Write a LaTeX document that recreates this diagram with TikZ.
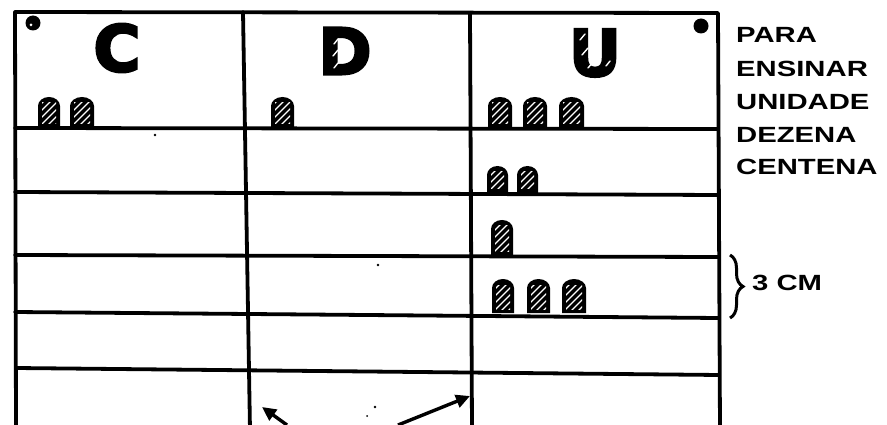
\documentclass[tikz,border=0pt]{standalone}
\usepackage{fontspec}
\setmainfont{Liberation Sans}
\newfontfamily\handfont{Liberation Sans Bold}[FakeStretch=1.33]
\newfontfamily\bigfont{DejaVu Sans Bold}[FakeBold=4]
\usetikzlibrary{arrows.meta,decorations.pathreplacing}
\tikzset{
  grid/.style={line width=3.8pt, line cap=round, line join=round},
  hand/.style={font=\handfont\fontsize{22}{33}\selectfont, inner sep=0pt},
  bigletter/.style={font=\bigfont\fontsize{64}{64}\selectfont, inner sep=0pt},
  pin/.style={fill=black},
  speck/.style={fill=black},
  arr/.style={line width=3.4pt, -{Triangle[length=14pt,width=13pt]}},
  brace/.style={line width=3pt, decorate, decoration={brace, amplitude=13pt}},
  stripe/.style={white, line width=1.4pt, line cap=round},
}
% token: x left, y bottom, width, height (pixel coordinates, y downward)
\newcommand{\tok}[4]{%
  \fill (#1,#2) -- (#1,#2-#4+9) arc[start angle=180, end angle=360, x radius=#3/2, y radius=9] -- (#1+#3,#2) -- cycle;
  \begin{scope}
    \clip (#1+4,#2-4) rectangle (#1+#3-4,#2-#4+6);
    \foreach \k in {-28,-21,...,28} {\draw[stripe] (#1+\k,#2) -- ++(40,-40);}
  \end{scope}}
\begin{document}
\begin{tikzpicture}[x=1pt,y=-1pt]
\useasboundingbox (0,0) rectangle (887,425);
\fill[white] (0,0) rectangle (887,425);
\clip (0,0) rectangle (887,425);
% table
\draw[grid] (16,430) -- (15,12) -- (718,13) -- (720,430);
\draw[grid] (243,12) -- (250,430);
\draw[grid] (470,13) -- (472,430);
\draw[grid] (15,128) -- (718,129);
\draw[grid] (15,192) -- (718,195);
\draw[grid] (15,255) -- (718,257);
\draw[grid] (15,312) -- (718,318);
\draw[grid] (16,368) -- (719,375);
% pins
\fill[pin] (33,23) circle[radius=7.5];
\fill[white] (31,25) circle[radius=1.5];
\fill[pin] (701,26) circle[radius=7.5];
% column headings
\node[bigletter] (c) at (117,48) {C};
\node[bigletter] (d) at (345,51) {D};
\node[bigletter] (u) at (595,53) {U};
% highlights on D and U
\draw[stripe] (334,68) -- ++(4,-5);
\draw[stripe] (333,56) -- ++(5,-6);
\draw[stripe] (334,44) -- ++(4,-5);
\draw[stripe] (580,40) -- ++(5,-6);
\draw[stripe] (582,55) -- ++(6,-7);
\draw[stripe] (588,68) -- ++(6,-7);
\draw[stripe] (606,66) -- ++(4,-5);
% tokens
\tok{38}{128}{22}{31}
\tok{70}{128}{24}{31}
\tok{271}{128}{23}{31}
\tok{488}{128}{24}{31}
\tok{523}{128}{24}{31}
\tok{559}{128}{25}{31}
\tok{487}{193}{21}{27}
\tok{517}{193}{21}{27}
\tok{491}{255}{22}{35}
\tok{492}{313}{22}{34}
\tok{527}{313}{23}{34}
\tok{562}{313}{24}{34}
% side text
\node[hand, anchor=base west] (para) at (736,43) {PARA};
\node[hand, anchor=base west] (ensinar) at (736,77) {ENSINAR};
\node[hand, anchor=base west] (unidade) at (736,110) {UNIDADE};
\node[hand, anchor=base west] (dezena) at (736,143) {DEZENA};
\node[hand, anchor=base west] (centena) at (736,175) {CENTENA};
% brace and size
\draw[brace] (730,255) -- (730,318);
\node[hand, anchor=base west] (cm) at (752,290) {3 CM};
% arrows
\coordinate (a1) at (287,425);
\coordinate (t1) at (262,407);
\coordinate (a2) at (398,425);
\coordinate (t2) at (470,396);
\draw[arr] (a1) -- (t1);
\draw[arr] (a2) -- (t2);
% specks
\fill[speck] (155,135) circle[radius=1.3];
\fill[speck] (378,265) circle[radius=1.3];
\fill[speck] (375,407) circle[radius=1.4];
\fill[speck] (367,416) circle[radius=1];
\end{tikzpicture}
\end{document}
